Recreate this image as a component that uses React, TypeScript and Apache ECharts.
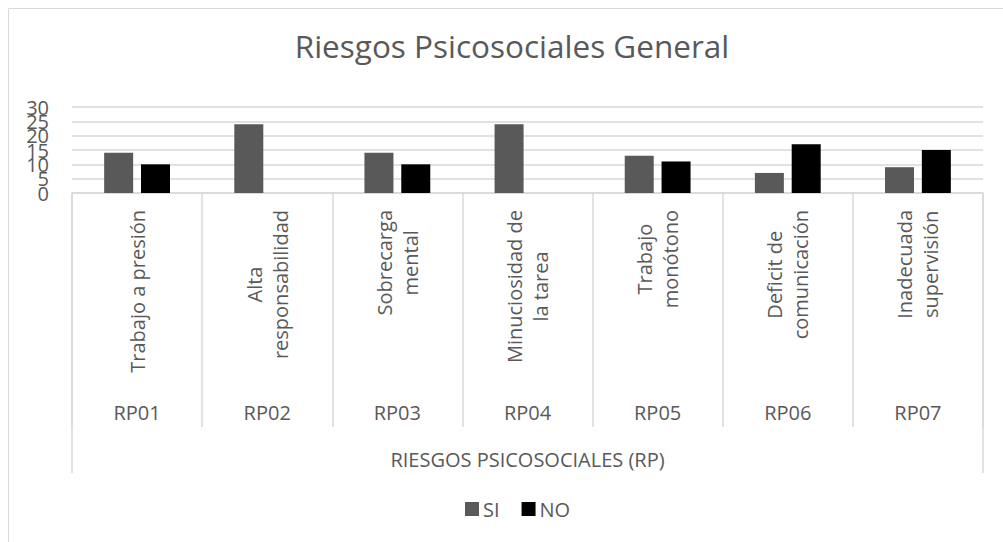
import React, { useEffect, useRef } from "react";
import * as echarts from "echarts";

const categories = ["RP01", "RP02", "RP03", "RP04", "RP05", "RP06", "RP07"];
const descriptions = [
  "Trabajo a presión",
  "Alta\nresponsabilidad",
  "Sobrecarga\nmental",
  "Minuciosidad de\nla tarea",
  "Trabajo\nmonótono",
  "Deficit de\ncomunicación",
  "Inadecuada\nsupervisión",
];
const groupLabel = ["RIESGOS PSICOSOCIALES (RP)"];
const yTickLabels = ["0", "5", "10", "15", "20", "25", "30"];
const siValues = [14, 24, 14, 24, 13, 7, 9];
const noValues = [10, 0, 10, 0, 11, 17, 15];
const titleText = "Riesgos Psicosociales General";

const FONT = "'Open Sans', sans-serif";
const TXT = "#595959";
const LINE = "#d9d9d9";

export default function App() {
  const ref = useRef<HTMLDivElement>(null);
  useEffect(() => {
    if (!ref.current) return;
    const chart = echarts.init(ref.current, undefined, { renderer: "svg" });
    chart.setOption({
      animation: false,
      backgroundColor: "#ffffff",
      textStyle: { fontFamily: FONT },
      title: {
        text: titleText,
        left: 507,
        textAlign: "center",
        top: 24,
        textStyle: { fontSize: 31.5, fontWeight: "normal", color: TXT, fontFamily: FONT },
      },
      legend: {
        data: ["SI", "NO"],
        left: 460,
        top: 494,
        itemWidth: 14,
        itemHeight: 14,
        itemGap: 22,
        icon: "rect",
        textStyle: { fontSize: 20, color: TXT, fontFamily: FONT, padding: [0, 0, 0, -1] },
      },
      graphic: [
        {
          type: "rect",
          shape: { x: 8.5, y: 8.5, width: 1100, height: 700 },
          style: { fill: "none", stroke: LINE, lineWidth: 1 },
          silent: true,
        },
      ],
      grid: { left: 72, right: 20, top: 107, bottom: 349, containLabel: false },
      xAxis: [
        {
          type: "category",
          data: categories,
          position: "bottom",
          axisLine: { show: true, lineStyle: { color: LINE, width: 1.5 } },
          axisTick: { show: true, length: 234, interval: 0, lineStyle: { color: LINE, width: 1.5 } },
          axisLabel: {
            interval: 0,
            rotate: 90,
            margin: 17,
            formatter: (_v: string, idx: number) =>
              descriptions[idx]
                .split("\n")
                .map((l) => `{c|${l}}`)
                .join("\n"),
            rich: {
              c: { align: "center", fontSize: 20, color: TXT, fontFamily: FONT, lineHeight: 26 },
            },
          },
        },
        {
          type: "category",
          data: categories,
          position: "bottom",
          axisLine: { show: false },
          axisTick: { show: false },
          axisLabel: {
            interval: 0,
            margin: 219,
            verticalAlign: "middle",
            fontSize: 20,
            color: TXT,
            fontFamily: FONT,
          },
        },
        {
          type: "category",
          data: groupLabel,
          position: "bottom",
          axisLine: { show: false },
          axisTick: { show: true, length: 280, interval: 0, lineStyle: { color: LINE, width: 1.5 } },
          axisLabel: {
            interval: 0,
            margin: 266,
            verticalAlign: "middle",
            fontSize: 20,
            color: TXT,
            fontFamily: FONT,
          },
        },
      ],
      yAxis: [
        {
          type: "value",
          min: 0,
          max: 30,
          interval: 5,
          axisLine: { show: false },
          axisTick: { show: false },
          splitLine: { show: true, lineStyle: { color: LINE, width: 1.5 } },
          axisLabel: { show: false },
        },
        {
          type: "category",
          data: yTickLabels,
          boundaryGap: false,
          position: "left",
          axisLine: { show: false },
          axisTick: { show: false },
          splitLine: { show: false },
          axisLabel: {
            interval: 0,
            fontSize: 20,
            color: TXT,
            fontFamily: FONT,
            margin: 23,
            hideOverlap: false,
          },
        },
      ],
      series: [
        {
          name: "SI",
          type: "bar",
          xAxisIndex: 0,
          yAxisIndex: 0,
          data: siValues,
          barWidth: 29,
          barGap: "27%",
          itemStyle: { color: "#595959" },
        },
        {
          name: "NO",
          type: "bar",
          xAxisIndex: 0,
          yAxisIndex: 0,
          data: noValues,
          barWidth: 29,
          itemStyle: { color: "#000000" },
        },
      ],
    });
    return () => chart.dispose();
  }, []);
  return (
    <div
      ref={ref}
      style={{ position: "fixed", left: 0, top: 0, width: 1003, height: 542 }}
    />
  );
}
